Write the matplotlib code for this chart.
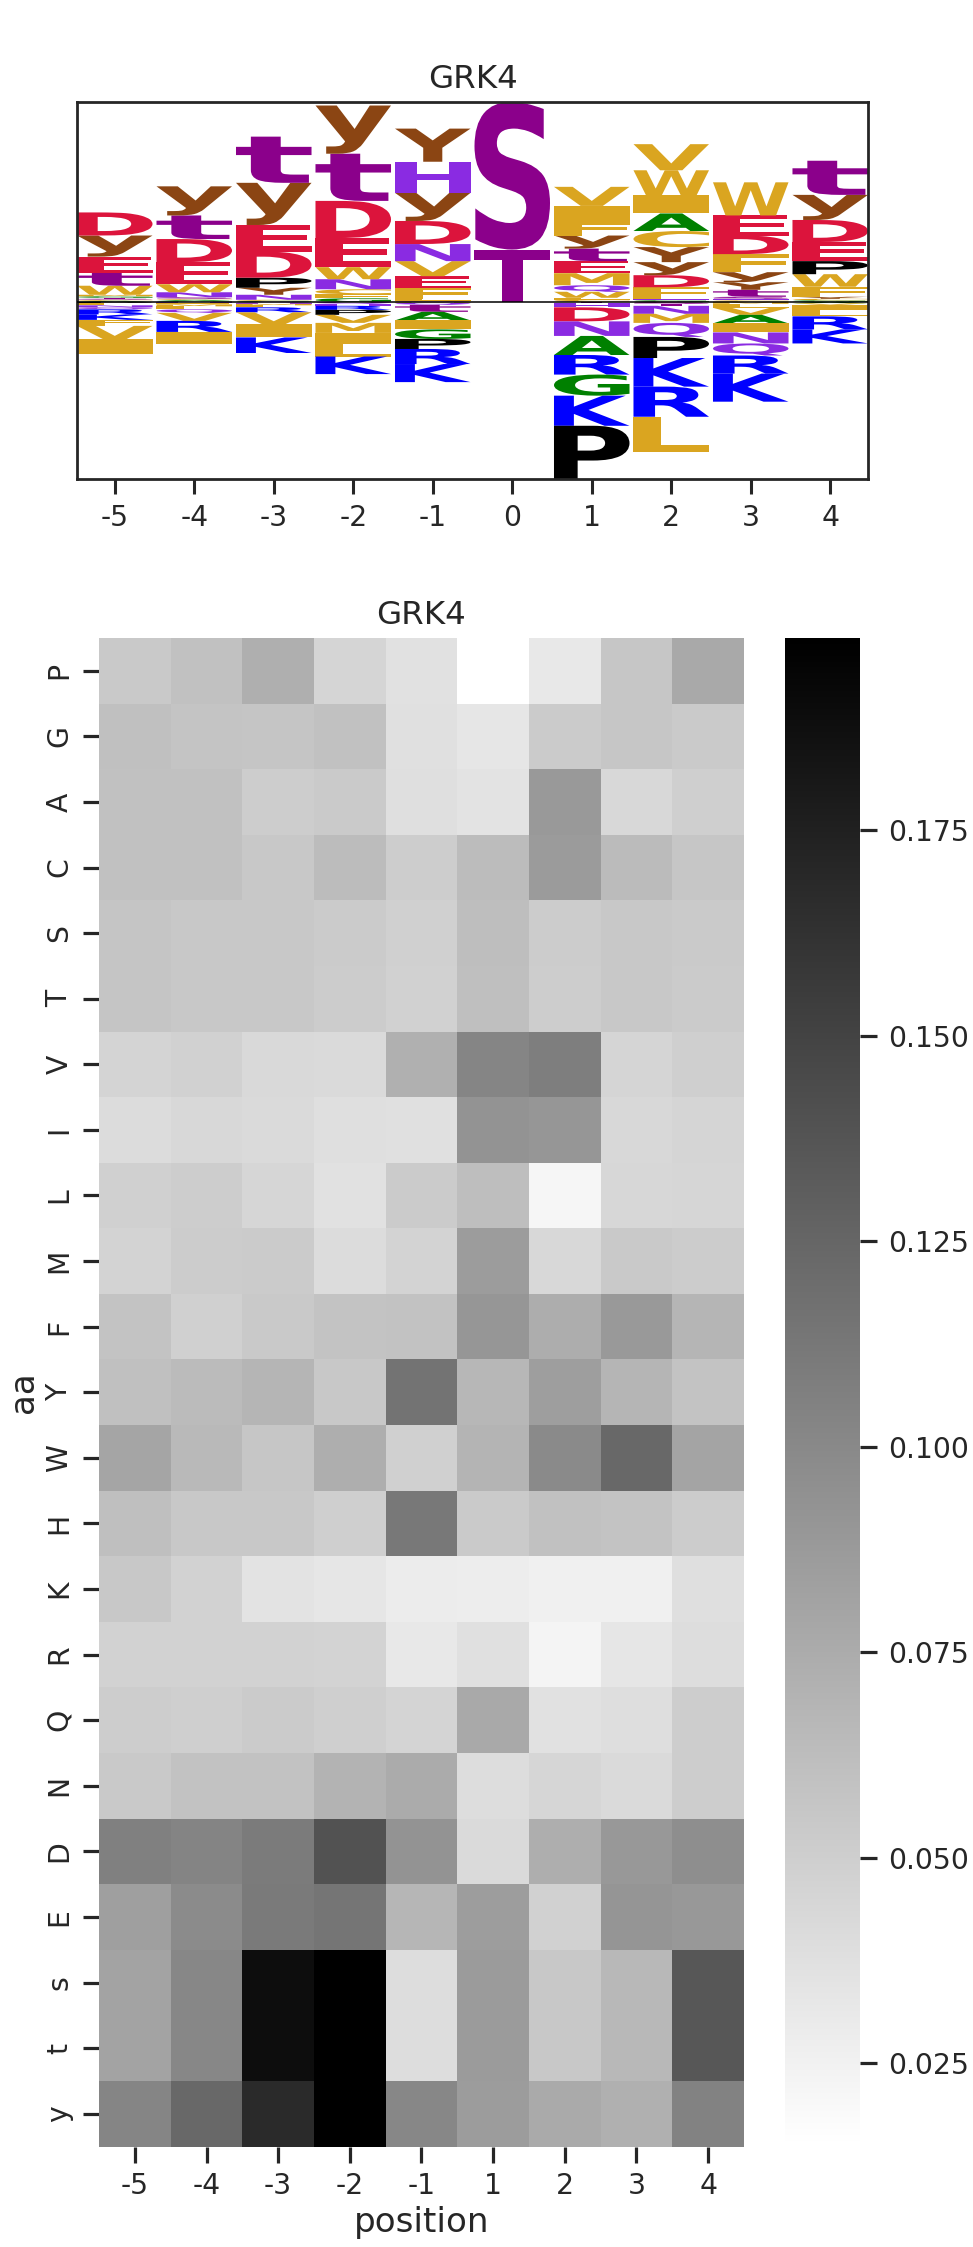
import numpy as np
import matplotlib
matplotlib.use('Agg')
import matplotlib.pyplot as plt
import seaborn as sns
import pandas as pd
from matplotlib.textpath import TextPath
from matplotlib.patches import PathPatch
from matplotlib.font_manager import FontProperties
from matplotlib.transforms import Affine2D

# ---------------- heatmap data ----------------
heat_positions = ['-5', '-4', '-3', '-2', '-1', '1', '2', '3', '4']
heat_rows = ['P', 'G', 'A', 'C', 'S', 'T', 'V', 'I', 'L', 'M', 'F', 'Y', 'W',
             'H', 'K', 'R', 'Q', 'N', 'D', 'E', 's', 't', 'y']
h_P = [0.0538, 0.0595, 0.0725, 0.0451, 0.0365, 0.0149, 0.0315, 0.0559, 0.0768]
h_G = [0.0602, 0.0574, 0.0566, 0.0595, 0.0372, 0.0329, 0.0523, 0.0559, 0.0530]
h_A = [0.0595, 0.0595, 0.0509, 0.0530, 0.0379, 0.0350, 0.0883, 0.0430, 0.0494]
h_C = [0.0595, 0.0595, 0.0545, 0.0631, 0.0509, 0.0631, 0.0869, 0.0638, 0.0559]
h_S = [0.0566, 0.0545, 0.0545, 0.0523, 0.0487, 0.0617, 0.0516, 0.0545, 0.0530]
h_T = [0.0566, 0.0545, 0.0545, 0.0516, 0.0480, 0.0610, 0.0509, 0.0545, 0.0523]
h_V = [0.0458, 0.0480, 0.0422, 0.0415, 0.0717, 0.1027, 0.1077, 0.0451, 0.0494]
h_I = [0.0401, 0.0430, 0.0415, 0.0379, 0.0372, 0.0926, 0.0905, 0.0430, 0.0451]
h_L = [0.0487, 0.0509, 0.0444, 0.0365, 0.0523, 0.0617, 0.0214, 0.0437, 0.0444]
h_M = [0.0466, 0.0516, 0.0523, 0.0401, 0.0466, 0.0861, 0.0430, 0.0538, 0.0516]
h_F = [0.0581, 0.0487, 0.0538, 0.0581, 0.0588, 0.0905, 0.0739, 0.0883, 0.0682]
h_Y = [0.0602, 0.0638, 0.0682, 0.0545, 0.1156, 0.0667, 0.0847, 0.0682, 0.0581]
h_W = [0.0797, 0.0653, 0.0559, 0.0732, 0.0487, 0.0689, 0.0991, 0.1236, 0.0804]
h_H = [0.0610, 0.0545, 0.0545, 0.0494, 0.1120, 0.0530, 0.0595, 0.0581, 0.0516]
h_K = [0.0545, 0.0473, 0.0350, 0.0329, 0.0286, 0.0279, 0.0257, 0.0257, 0.0379]
h_R = [0.0473, 0.0473, 0.0473, 0.0466, 0.0315, 0.0372, 0.0235, 0.0329, 0.0394]
h_Q = [0.0509, 0.0494, 0.0523, 0.0494, 0.0458, 0.0768, 0.0365, 0.0386, 0.0509]
h_N = [0.0538, 0.0588, 0.0588, 0.0696, 0.0753, 0.0394, 0.0444, 0.0415, 0.0509]
h_D = [0.1063, 0.1034, 0.1099, 0.1394, 0.0926, 0.0415, 0.0732, 0.0890, 0.0962]
h_E = [0.0840, 0.0984, 0.1106, 0.1142, 0.0674, 0.0854, 0.0480, 0.0912, 0.0890]
h_s = [0.0811, 0.1013, 0.1890, 0.1977, 0.0394, 0.0869, 0.0545, 0.0660, 0.1358]
h_t = [0.0811, 0.1013, 0.1890, 0.1977, 0.0394, 0.0869, 0.0545, 0.0660, 0.1358]
h_y = [0.1027, 0.1236, 0.1682, 0.1984, 0.1013, 0.0861, 0.0761, 0.0717, 0.1049]

# ---------------- logo data (per letter, positions -5..4) ----------------
logo_positions = [-5, -4, -3, -2, -1, 0, 1, 2, 3, 4]
logo_P = [-1.5, 0, 10, -5, -10, 0, -53, -21, 0, 13]
logo_G = [1.5, 1, 1, 3.5, -9.5, 0, -21, 1.5, 0, 1.5]
logo_A = [1, 1, 0, 0, -8.5, 0, -19, 17.5, -8.5, -1.5]
logo_C = [1, 1, 1, 5, 0, 0, 2, 16, 1.5, 1.5]
logo_S = [1, 1.5, 0, 0, 1, 147, 0, -2, 2, 0]
logo_T = [1, 0, 0, 0, 0, 52, -1.5, -2, 0, 0]
logo_V = [-13.5, -8, -12, -8, 15, 0, 19, 26, -7, -1.5]
logo_I = [-14, -12, -13, -11, -9, 0, 16, 18, -9, -5.5]
logo_L = [-2, -3, -2, -12.5, 1.5, 0, 2, -35, -4, -6]
logo_M = [1.5, -2, -1.5, -10, -1, 0, 12, -9, -2, 0]
logo_F = [-6, -1.5, 0, 4, 11, 0, 13.5, 11.5, 18, 10]
logo_Y = [0, 0, 7, 0, 33, 0, 0, 15, 7.5, 2]
logo_W = [9, 8, 0, 12, 0, 0, 6, 25, 33, 12.5]
logo_H = [0, -1, -1, -2, 31, 0, -4, 1.5, 1.5, 0]
logo_K = [-5.5, 0, -15.5, -17.5, -18, 0, -30, -28.5, -28, -14]
logo_R = [-5, -11, -5, -4, -15, 0, -19.5, -30, -18, -13]
logo_Q = [-2, -3.5, -1, -2, -2, 0, 6.5, -14, -12, 0]
logo_N = [-2, 5, 5, 10, 17, 0, -14.5, -8, -11, 0]
logo_D = [23, 23, 26, 37, 23, 0, -14, 12, 18.5, 22]
logo_E = [16, 22, 26.5, 29, 12, 0, 12, 0, 20, 19]
logo_t = [13, 23.5, 46, 47, -7, 0, 12.5, 0, 7, 34]
logo_y = [21, 29, 42, 48, 28, 0, 13, 13, 10, 25]

# ---------------- style ----------------
sns.set_theme(style='ticks')
plt.rcParams['font.family'] = ['DejaVu Sans']
plt.rcParams['axes.unicode_minus'] = False
TEXT = '#262626'
TICK_FS = 20.3
TITLE_FS = 23.4
LABEL_FS = 24.6

fig = plt.figure(figsize=(9.73, 22.47), dpi=100)

# ---------------- logo ----------------
logo_letters = ['P', 'G', 'A', 'C', 'S', 'T', 'V', 'I', 'L', 'M', 'F', 'Y', 'W',
                'H', 'K', 'R', 'Q', 'N', 'D', 'E', 't', 'y']
logo_table = pd.DataFrame(
    [logo_P, logo_G, logo_A, logo_C, logo_S, logo_T, logo_V, logo_I, logo_L,
     logo_M, logo_F, logo_Y, logo_W, logo_H, logo_K, logo_R, logo_Q, logo_N,
     logo_D, logo_E, logo_t, logo_y],
    index=logo_letters, columns=logo_positions)

colors = {}
for c in 'DE':
    colors[c] = '#DC143C'
for c in 'KR':
    colors[c] = '#0000FF'
for c in 'NQH':
    colors[c] = '#8A2BE2'
for c in 'STst':
    colors[c] = '#8B008B'
for c in 'Yy':
    colors[c] = '#8B4513'
for c in 'AG':
    colors[c] = '#008000'
colors['P'] = '#000000'
for c in 'VILMFWC':
    colors[c] = '#DAA520'

fp = FontProperties(family='DejaVu Sans', weight='bold')
GW = 0.95


def draw_glyph(ax, ch, x, y0, h, color):
    tp = TextPath((0, 0), ch, size=1, prop=fp)
    ext = tp.get_extents()
    tr = (Affine2D().translate(-ext.x0, -ext.y0)
          .scale(GW / ext.width, h / ext.height)
          .translate(x - GW / 2, y0))
    ax.add_patch(PathPatch(tr.transform_path(tp), facecolor=color,
                           edgecolor='none', lw=0, zorder=2))


ax1 = fig.add_axes([77 / 973, 1 - 479 / 2247, (868 - 77) / 973, (479 - 102) / 2247])
ymax, ymin = 0.0, 0.0
for p in logo_positions:
    col = logo_table[p]
    pos = col[col > 0].sort_values()
    neg = col[col < 0].sort_values(ascending=False)
    y = 0.0
    for ch, v in pos.items():
        draw_glyph(ax1, ch, p, y, v, colors[ch])
        y += v
    ymax = max(ymax, y)
    y = 0.0
    for ch, v in neg.items():
        draw_glyph(ax1, ch, p, y + v, -v, colors[ch])
        y += v
    ymin = min(ymin, y)

ax1.axhline(0, color='black', lw=1.1, zorder=3)
ax1.set_xlim(min(logo_positions) - 0.475, max(logo_positions) + 0.475)
ax1.set_ylim(ymin, ymax)
ax1.set_xticks(logo_positions)
ax1.set_xticklabels([str(p) for p in logo_positions])
ax1.set_yticks([])
for s in ax1.spines.values():
    s.set_visible(True)
    s.set_linewidth(2.0)
    s.set_color(TEXT)
ax1.tick_params(axis='x', labelsize=TICK_FS, length=11, width=2.2, pad=7,
                colors=TEXT)
ax1.set_title('GRK4', fontsize=TITLE_FS, color=TEXT, pad=10)

# ---------------- heatmap ----------------
heat_df = pd.DataFrame(
    [h_P, h_G, h_A, h_C, h_S, h_T, h_V, h_I, h_L, h_M, h_F, h_Y, h_W, h_H,
     h_K, h_R, h_Q, h_N, h_D, h_E, h_s, h_t, h_y],
    index=heat_rows, columns=heat_positions)

ax2 = fig.add_axes([99 / 973, 1 - 2146.5 / 2247, (744 - 99) / 973, (2146.5 - 638) / 2247])
cax = fig.add_axes([785 / 973, 1 - 2146.5 / 2247, (860 - 785) / 973, (2146.5 - 638) / 2247])
sns.heatmap(heat_df, cmap='binary', ax=ax2, cbar_ax=cax,
            cbar_kws={'ticks': [0.025, 0.05, 0.075, 0.1, 0.125, 0.15, 0.175]})
ax2.set_title('GRK4', fontsize=TITLE_FS, color=TEXT, pad=10)
ax2.set_xlabel('position', fontsize=LABEL_FS, color=TEXT)
ax2.set_ylabel('aa', fontsize=LABEL_FS, color=TEXT)
ax2.tick_params(axis='both', labelsize=TICK_FS, length=11.5, width=2.3, pad=7,
                colors=TEXT)
plt.setp(ax2.get_yticklabels(), rotation=90, va='center')
plt.setp(ax2.get_xticklabels(), rotation=0)
cax.tick_params(labelsize=TICK_FS, length=12, width=2.3, pad=8, colors=TEXT)
cax.set_yticklabels(['0.025', '0.050', '0.075', '0.100', '0.125', '0.150', '0.175'])

fig.savefig('out.png', dpi=100)
